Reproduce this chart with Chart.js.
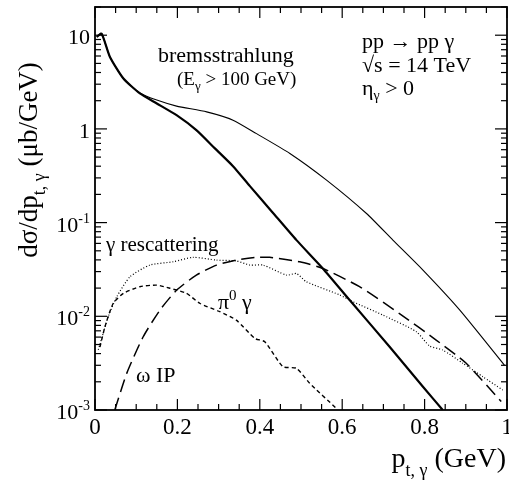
<!DOCTYPE html>
<html>
<head>
<meta charset="utf-8">
<script src="https://cdn.jsdelivr.net/npm/chart.js@4"></script>
<style>
  html, body { margin: 0; padding: 0; background: #fff; }
</style>
</head>
<body>
<canvas id="chart" width="509" height="483"></canvas>
<script>
// Photon pt spectra, pp -> pp gamma at 14 TeV

// bremsstrahlung, all photons (thick)
const bremsX = [0.004, 0.016, 0.036, 0.069, 0.109, 0.150, 0.198, 0.246, 0.291, 0.335, 0.376, 0.43, 0.489, 0.553, 0.618, 0.715, 0.796, 0.844];
const bremsY = [9.6, 10.4, 5.9, 3.45, 2.39, 1.87, 1.40, 0.97, 0.62, 0.40, 0.245, 0.13, 0.065, 0.0324, 0.0149, 0.00473, 0.00177, 0.001];

// bremsstrahlung with E_gamma > 100 GeV (thin)
const bremsCutX = [0.004, 0.016, 0.036, 0.069, 0.109, 0.150, 0.198, 0.271, 0.335, 0.392, 0.473, 0.562, 0.659, 0.723, 0.796, 0.885, 0.994];
const bremsCutY = [9.6, 10.4, 5.9, 3.45, 2.42, 2.03, 1.75, 1.52, 1.24, 0.89, 0.547, 0.284, 0.125, 0.065, 0.0311, 0.0117, 0.0030];

// gamma rescattering (dotted)
const rescatX = [0.008, 0.020, 0.032, 0.053, 0.085, 0.133, 0.190, 0.238, 0.295, 0.343, 0.376, 0.408, 0.465, 0.489, 0.513, 0.594, 0.626, 0.699, 0.780, 0.812, 0.844, 0.893, 0.941, 0.990];
const rescatY = [0.0044, 0.0066, 0.0099, 0.0162, 0.0264, 0.0352, 0.0382, 0.0426, 0.0398, 0.039, 0.0352, 0.0352, 0.0275, 0.0286, 0.0234, 0.0169, 0.0143, 0.0103, 0.00685, 0.00482, 0.00437, 0.00315, 0.00227, 0.00163];

// omega Pomeron (long dashes)
const omegaX = [0.048, 0.077, 0.117, 0.158, 0.198, 0.246, 0.295, 0.343, 0.392, 0.424, 0.497, 0.553, 0.642, 0.739, 0.828, 0.901, 0.986];
const omegaY = [0.001, 0.00246, 0.00605, 0.0117, 0.019, 0.0275, 0.0352, 0.0398, 0.0426, 0.0426, 0.0382, 0.0324, 0.0207, 0.0107, 0.00558, 0.00315, 0.00123];

// pi0 gamma (short dashes)
const pionX = [0.012, 0.024, 0.044, 0.069, 0.109, 0.150, 0.182, 0.222, 0.255, 0.303, 0.343, 0.388, 0.412, 0.456, 0.489, 0.521, 0.586];
const pionY = [0.0047, 0.0077, 0.0137, 0.0176, 0.0207, 0.0215, 0.0199, 0.0176, 0.0137, 0.0112, 0.0091, 0.0058, 0.00536, 0.0029, 0.00279, 0.00193, 0.00104];

// axis ticks
const xTicks = [0, 0.2, 0.4, 0.6, 0.8, 1];
const xTickLabels = ['0', '0.2', '0.4', '0.6', '0.8', '1'];
const yDecades = [-3, -2, -1, 0, 1];

const SERIF = '"Liberation Serif", "DejaVu Serif", serif';

function toPoints(xs, ys) {
  return xs.map((x, i) => ({ x: x, y: ys[i] }));
}

// Draw a run of text pieces (for sub/superscripts). align: 'left' | 'right' | 'center'
function drawRich(ctx, parts, x, y, align) {
  let total = 0;
  parts.forEach(p => {
    ctx.font = `${p.size}px ${SERIF}`;
    p.w = ctx.measureText(p.t).width;
    total += p.w;
  });
  let cx = x;
  if (align === 'right') cx = x - total;
  else if (align === 'center') cx = x - total / 2;
  parts.forEach(p => {
    ctx.font = `${p.size}px ${SERIF}`;
    ctx.fillText(p.t, cx, y + (p.dy || 0));
    cx += p.w;
  });
}

function line(ctx, x1, y1, x2, y2) {
  ctx.beginPath();
  ctx.moveTo(x1, y1);
  ctx.lineTo(x2, y2);
  ctx.stroke();
}

// Frame, inward ticks, tick labels and text labels
const overlay = {
  id: 'overlay',
  afterDraw(chart) {
    const { ctx, chartArea: a, scales } = chart;
    const xs = scales.x;
    const ys = scales.y;
    ctx.save();
    ctx.strokeStyle = '#000';
    ctx.fillStyle = '#000';
    ctx.textBaseline = 'alphabetic';
    ctx.textAlign = 'left';

    ctx.lineWidth = 1.8;
    ctx.strokeRect(a.left, a.top, a.right - a.left, a.bottom - a.top);

    // x ticks: major every 0.2, minor every 0.05
    ctx.lineWidth = 1.2;
    for (let i = 0; i <= 20; i++) {
      const px = xs.getPixelForValue(i * 0.05);
      const len = i % 4 === 0 ? 11 : 6;
      line(ctx, px, a.bottom, px, a.bottom - len);
      line(ctx, px, a.top, px, a.top + len);
    }
    xTicks.forEach((v, i) => {
      drawRich(ctx, [{ t: xTickLabels[i], size: 23 }], xs.getPixelForValue(v), a.bottom + 24, 'center');
    });

    // y ticks: decades plus 2..9 minors
    yDecades.forEach(k => {
      for (let m = 1; m <= 9; m++) {
        const v = m * Math.pow(10, k);
        if (v > ys.max) break;
        const py = ys.getPixelForValue(v);
        const len = m === 1 ? 12 : 6;
        line(ctx, a.left, py, a.left + len, py);
        line(ctx, a.right, py, a.right - len, py);
      }
      const py = ys.getPixelForValue(Math.pow(10, k));
      let parts;
      if (k === 0) parts = [{ t: '1', size: 22 }];
      else if (k === 1) parts = [{ t: '10', size: 22 }];
      else parts = [{ t: '10', size: 22 }, { t: '-' + (-k), size: 14, dy: -9 }];
      drawRich(ctx, parts, a.left - 5, py + 9, 'right');
    });

    // axis titles
    drawRich(ctx, [
      { t: 'p', size: 28 },
      { t: 't, \u03b3', size: 18, dy: 9 },
      { t: ' (GeV)', size: 28 }
    ], 506, 467, 'right');

    ctx.save();
    ctx.translate(37, 160);
    ctx.rotate(-Math.PI / 2);
    drawRich(ctx, [
      { t: 'd\u03c3/dp', size: 27 },
      { t: 't, \u03b3', size: 18, dy: 8 },
      { t: ' (\u03bcb/GeV)', size: 27 }
    ], 0, 0, 'center');
    ctx.restore();

    // curve labels
    drawRich(ctx, [{ t: 'bremsstrahlung', size: 22 }], 158, 62, 'left');
    drawRich(ctx, [
      { t: '(E', size: 19 },
      { t: '\u03b3', size: 13, dy: 5 },
      { t: ' > 100 GeV)', size: 19 }
    ], 177, 85, 'left');

    drawRich(ctx, [{ t: 'pp \u2192 pp \u03b3', size: 22 }], 362, 48, 'left');
    drawRich(ctx, [{ t: '\u221as = 14 TeV', size: 22 }], 362, 72, 'left');
    drawRich(ctx, [
      { t: '\u03b7', size: 22 },
      { t: '\u03b3', size: 14, dy: 5 },
      { t: ' > 0', size: 22 }
    ], 362, 95, 'left');

    drawRich(ctx, [{ t: '\u03b3 rescattering', size: 21 }], 106, 251, 'left');
    drawRich(ctx, [
      { t: '\u03c0', size: 22 },
      { t: '0', size: 15, dy: -9 },
      { t: ' \u03b3', size: 22 }
    ], 218, 309, 'left');
    drawRich(ctx, [{ t: '\u03c9 IP', size: 22 }], 136, 382, 'left');

    ctx.restore();
  }
};

new Chart(document.getElementById('chart'), {
  type: 'line',
  data: {
    datasets: [
      {
        label: 'bremsstrahlung',
        data: toPoints(bremsX, bremsY),
        borderColor: '#000',
        borderWidth: 2.2
      },
      {
        label: 'bremsstrahlung (E > 100 GeV)',
        data: toPoints(bremsCutX, bremsCutY),
        borderColor: '#000',
        borderWidth: 1.1
      },
      {
        label: 'gamma rescattering',
        data: toPoints(rescatX, rescatY),
        borderColor: '#000',
        borderWidth: 1.2,
        borderDash: [1, 2]
      },
      {
        label: 'omega IP',
        data: toPoints(omegaX, omegaY),
        borderColor: '#000',
        borderWidth: 1.5,
        borderDash: [13, 6]
      },
      {
        label: 'pi0 gamma',
        data: toPoints(pionX, pionY),
        borderColor: '#000',
        borderWidth: 1.4,
        borderDash: [4, 3]
      }
    ]
  },
  options: {
    responsive: false,
    animation: false,
    events: [],
    layout: {
      padding: { left: 95, right: 2, top: 7, bottom: 73 }
    },
    elements: {
      point: { radius: 0 },
      line: { tension: 0.2, fill: false }
    },
    plugins: {
      legend: { display: false },
      tooltip: { enabled: false }
    },
    scales: {
      x: {
        type: 'linear',
        display: false,
        min: 0,
        max: 1
      },
      y: {
        type: 'logarithmic',
        display: false,
        min: 0.001,
        max: 20
      }
    }
  },
  plugins: [overlay]
});
</script>
</body>
</html>
